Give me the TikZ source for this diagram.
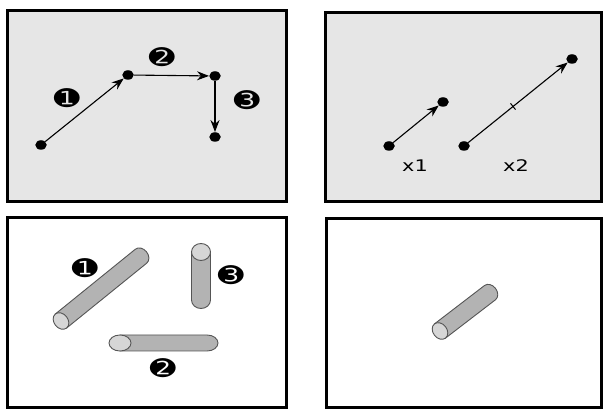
\documentclass[tikz,border=0pt]{standalone}
\usepackage{fontspec}
\newfontfamily\dingfont{DejaVu Sans}
\usetikzlibrary{arrows.meta,shapes.geometric,calc}
\definecolor{panelgray}{HTML}{E6E6E6}
\definecolor{tubegray}{HTML}{B3B3B3}
\definecolor{capgray}{HTML}{D6D6D6}
\definecolor{edgegray}{HTML}{555555}
\tikzset{
  panel/.style={draw=black, line width=3pt},
  dot/.style={ellipse, fill=black, minimum width=11.5pt, minimum height=9.5pt, inner sep=0pt},
  move/.style={-{Stealth[length=12pt,width=9pt]}, line width=1.1pt},
  num/.style={font=\dingfont\fontsize{23}{23}\selectfont, xscale=1.35, transform shape, inner sep=0pt},
  mark label/.style={font=\dingfont\fontsize{16}{16}\selectfont, xscale=1.3, transform shape, inner sep=0pt},
  tube/.style={fill=tubegray, draw=edgegray, line width=0.9pt},
  rod end/.style={fill=capgray, draw=edgegray, line width=0.9pt}
}
% cylinder: x, y, angle, length, radius, end depth
\newcommand{\rodshape}[6]{
  \begin{scope}[shift={(#1,#2)}, rotate=#3]
    \draw[tube] (0,#5) -- (#4,#5) arc[start angle=90, end angle=-90, x radius=#6, y radius=#5] -- (0,-#5) -- cycle;
    \draw[rod end] (0,0) ellipse[x radius=#6, y radius=#5];
  \end{scope}
}
\begin{document}
\begin{tikzpicture}[x=1pt,y=1pt]
  \useasboundingbox (0,0) rectangle (606,410);
  % panels
  \draw[panel, fill=panelgray] (7,399) rectangle (286,208);
  \draw[panel, fill=panelgray] (325,397) rectangle (601,208);
  \draw[panel, fill=white] (7,192) rectangle (286,2);
  \draw[panel, fill=white] (326,191) rectangle (601,2);

  % three moves
  \node[dot] (P1) at (41,265) {};
  \node[dot] (P2) at (128,335) {};
  \node[dot] (P3) at (215,334) {};
  \node[dot] (P4) at (215,273) {};
  \draw[move] (P1) -- (P2);
  \draw[move] (P2) -- (P3);
  \draw[move] (P3) -- (P4);
  \node[num] (n1) at (67,312) {➊};
  \node[num] (n2) at (162,353) {➋};
  \node[num] (n3) at (247,310) {➌};

  % one step and a double step
  \node[dot] (Q1) at (389,264) {};
  \node[dot] (Q2) at (443,308) {};
  \node[dot] (Q3) at (464,264) {};
  \node[dot] (Q4) at (572,351) {};
  \draw[move] (Q1) -- (Q2);
  \draw[move] (Q3) -- coordinate[pos=0.45] (M) (Q4);
  \draw[line width=1pt] ($(M)!4pt!90:(Q4)$) -- ($(M)!4pt!-90:(Q4)$);
  \node[mark label] (x1) at (415,244) {x1};
  \node[mark label] (x2) at (516,244) {x2};

  % rods
  \rodshape{61}{89}{39}{103}{9}{7}
  \rodshape{120}{67}{0}{87}{8}{11}
  \rodshape{201}{158}{-90}{48}{9.5}{8.5}
  \node[num] (m1) at (85,142) {➊};
  \node[num] (m2) at (163,42) {➋};
  \node[num] (m3) at (231,135) {➌};

  % single rod
  \rodshape{440}{79}{37.5}{63}{9}{7}
\end{tikzpicture}
\end{document}
